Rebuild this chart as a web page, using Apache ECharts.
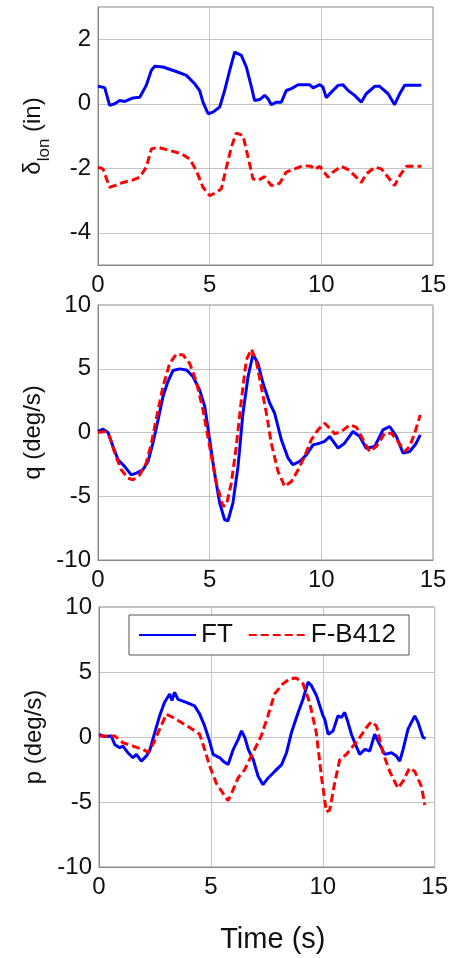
<!DOCTYPE html>
<html>
<head>
<meta charset="utf-8">
<script src="https://cdn.jsdelivr.net/npm/echarts@6/dist/echarts.min.js"></script>
<style>
  html, body { margin: 0; padding: 0; background: #fff; }
  #main { width: 451px; height: 958px; }
</style>
</head>
<body>
<div id="main"></div>
<script>
// 数据: [时间 s, 值]
var lonFT = [[0,0.54],[0.3,0.5],[0.52,-0.05],[0.75,0],[0.97,0.1],[1.2,0.07],[1.57,0.18],[1.87,0.2],[2.16,0.57],[2.39,1.04],[2.54,1.16],[2.91,1.14],[3.5,1.0],[3.96,0.88],[4.33,0.62],[4.55,0.41],[4.7,0.05],[4.93,-0.31],[5.15,-0.26],[5.45,-0.1],[5.67,0.41],[5.9,1.04],[6.12,1.6],[6.42,1.5],[6.64,1.14],[6.87,0.52],[7.01,0.1],[7.24,0.13],[7.46,0.26],[7.61,0.16],[7.76,-0.03],[7.99,0.05],[8.21,0.05],[8.43,0.41],[8.66,0.47],[8.96,0.59],[9.48,0.59],[9.63,0.49],[9.93,0.59],[10.07,0.52],[10.22,0.19],[10.45,0.36],[10.75,0.57],[10.97,0.59],[11.2,0.41],[11.49,0.26],[11.79,0.05],[12.01,0.31],[12.39,0.54],[12.61,0.54],[12.99,0.31],[13.28,-0.03],[13.51,0.31],[13.73,0.57],[14.48,0.57]];
var lonFB = [[0,-1.97],[0.22,-2.02],[0.52,-2.59],[0.75,-2.54],[1.12,-2.44],[1.57,-2.36],[1.87,-2.28],[2.16,-1.97],[2.39,-1.4],[2.69,-1.35],[3.21,-1.45],[3.73,-1.55],[4.1,-1.71],[4.4,-2.07],[4.7,-2.59],[5.0,-2.85],[5.3,-2.75],[5.52,-2.64],[5.75,-1.97],[5.97,-1.35],[6.19,-0.91],[6.49,-0.98],[6.72,-1.66],[6.94,-2.33],[7.16,-2.38],[7.46,-2.26],[7.76,-2.54],[8.13,-2.47],[8.43,-2.12],[8.73,-2.04],[9.18,-1.92],[9.55,-1.94],[9.7,-2.04],[9.93,-1.94],[10.3,-2.28],[10.52,-2.12],[10.9,-1.94],[11.27,-2.07],[11.79,-2.44],[12.01,-2.18],[12.39,-1.97],[12.69,-2.02],[12.99,-2.28],[13.28,-2.54],[13.51,-2.23],[13.81,-1.94],[14.48,-1.94]];

var qFT = [[0,0.08],[0.22,0.26],[0.45,0],[0.67,-1.1],[0.9,-2.14],[1.19,-2.66],[1.49,-3.32],[1.72,-3.19],[2.01,-2.92],[2.24,-2.27],[2.46,-0.84],[2.69,0.99],[2.91,2.82],[3.13,4.0],[3.36,4.86],[3.66,4.99],[3.96,4.91],[4.25,4.39],[4.55,3.34],[4.78,2.04],[5.0,-0.57],[5.22,-3.19],[5.45,-5.54],[5.67,-6.84],[5.82,-6.92],[6.04,-5.54],[6.27,-2.66],[6.49,1.51],[6.72,4.39],[6.94,6.14],[7.16,5.43],[7.39,3.86],[7.69,2.3],[7.91,1.51],[8.21,-0.57],[8.51,-2.01],[8.73,-2.53],[9.03,-2.27],[9.33,-1.75],[9.63,-0.97],[9.93,-0.84],[10.15,-0.7],[10.37,-0.31],[10.75,-1.23],[11.04,-0.84],[11.42,0.08],[11.72,-0.31],[12.01,-1.23],[12.39,-1.1],[12.76,0.21],[13.06,0.47],[13.36,-0.31],[13.66,-1.62],[13.96,-1.49],[14.25,-0.84],[14.43,-0.18]];
var qFB = [[0,0],[0.3,0.08],[0.52,-0.31],[0.75,-1.62],[1.04,-2.92],[1.34,-3.58],[1.57,-3.71],[1.87,-3.32],[2.16,-2.4],[2.39,-0.84],[2.69,1.78],[2.91,3.6],[3.21,5.43],[3.51,6.16],[3.81,6.08],[4.1,5.43],[4.4,4.0],[4.7,1.78],[5.0,-1.1],[5.3,-3.97],[5.6,-5.8],[5.75,-5.67],[5.97,-3.97],[6.19,-1.1],[6.42,2.56],[6.64,5.69],[6.87,6.53],[7.09,5.56],[7.31,3.6],[7.54,1.51],[7.76,-0.84],[8.06,-3.05],[8.36,-4.23],[8.66,-3.84],[8.96,-2.92],[9.25,-1.88],[9.55,-0.57],[9.85,0.21],[10.15,0.73],[10.37,0.34],[10.6,-0.1],[10.9,0.08],[11.27,0.6],[11.57,0.42],[11.87,-0.57],[12.16,-1.49],[12.46,-1.1],[12.84,-0.05],[13.13,-0.05],[13.43,-0.7],[13.73,-1.49],[13.96,-1.1],[14.18,-0.05],[14.43,1.38]];

var pFT = [[0,0.2],[0.25,0.03],[0.55,0.08],[0.7,-0.57],[0.92,-0.82],[1.07,-0.7],[1.29,-1.21],[1.52,-1.6],[1.67,-1.34],[1.89,-1.86],[2.11,-1.47],[2.26,-1.08],[2.49,0.34],[2.71,1.63],[2.93,2.67],[3.16,3.31],[3.26,2.8],[3.38,3.44],[3.53,2.9],[3.9,2.67],[4.27,2.4],[4.5,1.76],[4.72,0.85],[4.94,-0.31],[5.1,-1.34],[5.4,-1.6],[5.55,-1.86],[5.77,-2.12],[6.0,-0.95],[6.22,-0.18],[6.37,0.47],[6.52,-0.05],[6.67,-0.95],[6.89,-1.73],[7.11,-3.02],[7.33,-3.67],[7.56,-3.15],[7.86,-2.63],[8.16,-2.12],[8.38,-1.21],[8.6,0.34],[8.9,1.89],[9.12,2.92],[9.34,4.22],[9.49,3.96],[9.72,3.18],[10.01,1.63],[10.09,1.37],[10.24,0.21],[10.46,0.47],[10.68,1.63],[10.83,1.5],[10.98,1.89],[11.13,1.11],[11.28,0.21],[11.43,-0.44],[11.65,-1.34],[11.88,-0.95],[12.1,-1.08],[12.32,0.21],[12.54,-0.57],[12.77,-1.34],[13.07,-1.21],[13.29,-1.47],[13.44,-1.86],[13.59,-0.95],[13.81,0.6],[14.11,1.63],[14.26,1.11],[14.48,-0.05],[14.6,-0.1]];
var pFB = [[0,0.08],[0.33,0.08],[0.7,0.08],[1.07,-0.44],[1.52,-0.7],[1.97,-0.96],[2.19,-1.17],[2.41,-0.57],[2.71,0.6],[3.01,1.76],[3.31,1.5],[3.68,1.11],[4.05,0.73],[4.5,0.21],[4.72,-0.96],[4.95,-2.25],[5.24,-3.55],[5.54,-4.33],[5.77,-4.9],[5.99,-4.07],[6.21,-3.16],[6.51,-2.51],[6.88,-1.22],[7.25,0.08],[7.55,1.63],[7.85,3.32],[8.22,4.09],[8.52,4.48],[8.82,4.53],[9.12,4.09],[9.41,2.67],[9.71,0.34],[9.94,-3.03],[10.16,-5.75],[10.31,-5.62],[10.53,-3.55],[10.76,-1.74],[11.05,-1.35],[11.35,-0.7],[11.65,-0.05],[11.95,0.73],[12.17,1.17],[12.4,0.85],[12.69,-1.22],[12.99,-2.64],[13.36,-3.94],[13.58,-3.42],[13.88,-2.38],[14.11,-2.64],[14.41,-3.81],[14.56,-5.23]];

var lonTicks = [-4, -2, 0, 2];
var rateTicks = [-10, -5, 0, 5, 10];

var FONT = 'Arial, "Liberation Sans", sans-serif';
var gridColor = '#c4c4c4';
var boxColor = '#8a8a8a';

function xAx(idx, extra) {
    var a = {
        type: 'value', gridIndex: idx, min: 0, max: 15, interval: 5,
        axisLine: { show: true, onZero: false, lineStyle: { color: boxColor } },
        axisTick: { show: false },
        axisLabel: { fontSize: 24, color: '#111', fontFamily: FONT, margin: 8 },
        splitLine: { show: true, lineStyle: { color: gridColor } }
    };
    return Object.assign(a, extra || {});
}
function yAx(idx, min, max, ticks, name, gap) {
    return {
        type: 'value', gridIndex: idx, min: min, max: max,
        name: name, nameLocation: 'middle', nameGap: gap, nameRotate: 90,
        nameTextStyle: {
            fontSize: 24, color: '#111', fontFamily: FONT,
            rich: {
                a: { fontSize: 24, color: '#111', fontFamily: FONT, lineHeight: 32, verticalAlign: 'top' },
                b: { fontSize: 17, color: '#111', fontFamily: FONT, lineHeight: 16, verticalAlign: 'bottom' }
            }
        },
        axisLine: { show: true, lineStyle: { color: boxColor } },
        axisTick: { show: false, customValues: ticks },
        axisLabel: { fontSize: 24, color: '#111', fontFamily: FONT, margin: 7, customValues: ticks },
        splitLine: { show: true, lineStyle: { color: gridColor } }
    };
}
function ln(name, data, idx) {
    var ft = name === 'FT';
    return {
        name: name, type: 'line', xAxisIndex: idx, yAxisIndex: idx,
        data: data, symbol: 'none', smooth: false, animation: false,
        lineStyle: ft ? { color: '#0000ff', width: 3 } : { color: '#ff0000', width: 3, type: [8, 4] },
        itemStyle: { color: ft ? '#0000ff' : '#ff0000' }
    };
}

var myChart = echarts.init(document.getElementById('main'));
var option = {
    backgroundColor: '#fff',
    animation: false,
    grid: [
        { left: 98, top: 7, width: 335, height: 258, show: true, borderColor: boxColor, borderWidth: 1 },
        { left: 98, top: 305, width: 335, height: 255, show: true, borderColor: boxColor, borderWidth: 1 },
        { left: 99, top: 607, width: 336, height: 260, show: true, borderColor: boxColor, borderWidth: 1 }
    ],
    legend: {
        data: ['FT', 'F-B412'],
        left: 129, top: 615,
        padding: [7, 13, 7, 9],
        itemGap: 15, itemWidth: 57, itemHeight: 14,
        borderColor: '#555', borderWidth: 1, backgroundColor: '#fff',
        itemStyle: { opacity: 0 },
        textStyle: { fontSize: 26, color: '#111', fontFamily: FONT },
        selectedMode: false
    },
    xAxis: [
        xAx(0), xAx(1),
        xAx(2, {
            name: 'Time (s)', nameLocation: 'middle', nameGap: 58,
            nameTextStyle: { fontSize: 29, color: '#111', fontFamily: FONT, padding: [0, 0, 0, 12] }
        })
    ],
    yAxis: [
        yAx(0, -5, 3, lonTicks, '{a|δ}{b|lon}{a| (in)}', 45),
        yAx(1, -10, 10, rateTicks, 'q (deg/s)', 50),
        yAx(2, -10, 10, rateTicks, 'p (deg/s)', 47)
    ],
    series: [
        ln('FT', lonFT, 0), ln('F-B412', lonFB, 0),
        ln('FT', qFT, 1), ln('F-B412', qFB, 1),
        ln('FT', pFT, 2), ln('F-B412', pFB, 2)
    ]
};
myChart.setOption(option);
</script>
</body>
</html>
